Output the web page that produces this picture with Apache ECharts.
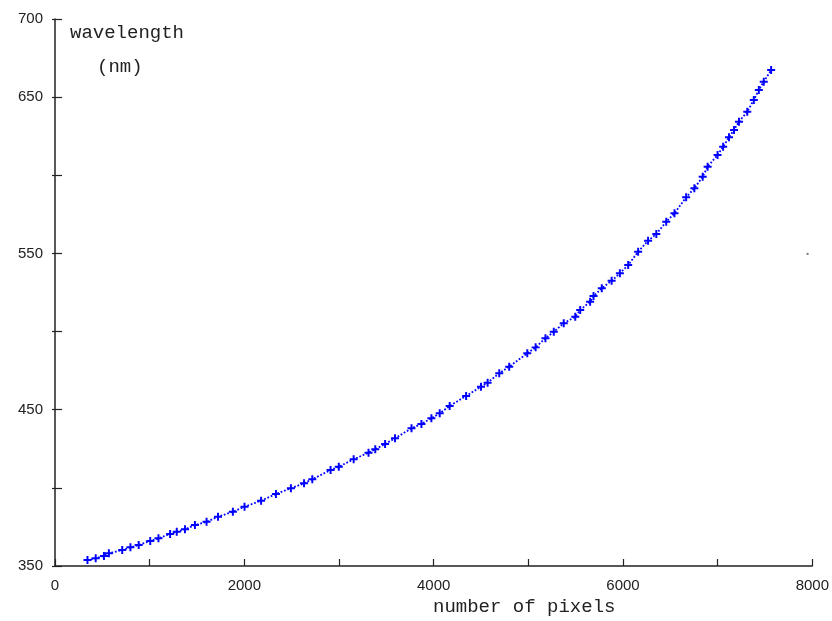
<!DOCTYPE html>
<html>
<head>
<meta charset="utf-8">
<script src="https://cdn.jsdelivr.net/npm/echarts@6/dist/echarts.min.js"></script>
<style>html,body{margin:0;padding:0;background:#fff;overflow:hidden}#c{width:832px;height:621px}</style>
</head>
<body>
<div id="c"></div>
<script>
// number of pixels (x) and wavelength in nm (y)
var pixels = [343,430,517,569,710,797,884,1006,1093,1216,1286,1373,1478,1601,1722,1879,2002,2177,2334,2492,2631,2718,2911,2998,3155,3312,3383,3487,3592,3766,3871,3976,4064,4169,4343,4500,4570,4693,4798,4989,5077,5181,5269,5374,5496,5548,5653,5689,5776,5880,5967,6055,6160,6265,6352,6457,6544,6667,6754,6842,6894,6999,7058,7120,7173,7225,7313,7382,7435,7487,7565];
var wavelength = [353.8,354.9,356.4,358.1,360.2,362.0,363.4,366.0,367.7,370.5,371.9,373.5,376.2,378.3,381.5,384.7,387.9,391.8,396.1,399.7,402.9,405.5,411.4,413.5,418.3,422.5,424.7,428.1,431.7,438.1,440.9,444.5,447.7,452.4,458.8,464.7,467.3,473.3,477.5,486.1,489.9,495.7,499.9,505.3,509.5,513.8,519.1,522.7,527.7,532.5,537.3,542.6,551.1,558.1,562.4,570.3,575.7,585.9,591.7,599.1,605.5,613.0,618.3,624.3,629.0,634.3,640.7,648.2,654.6,659.9,667.3];
var strayPoint = [7950, 549.7];
var xTickLabels = ['0','2000','4000','6000','8000'];
var yTickLabels = ['350','450','550','650','700'];
var yAxisTitle = ['wavelength','(nm)'];
var xAxisTitle = 'number of pixels';

var pts = pixels.map(function(p,i){return [p, wavelength[i]];});
var plus = 'path://M2,0H3.3V2H5.3V3.3H3.3V5.3H2V3.3H0V2H2Z';
var chart = echarts.init(document.getElementById('c'), null, {renderer:'canvas'});
var axisCol = '#222';
var labelStyle = {color:'#222', fontFamily:'Liberation Sans, Arial, sans-serif', fontSize:15};
chart.setOption({
  backgroundColor:'#fff',
  animation:false,
  grid:{left:55, right:12, top:19, bottom:55, containLabel:false},
  xAxis:{
    type:'value', min:0, max:8000, interval:1000,
    axisLine:{show:true, onZero:false, lineStyle:{color:axisCol, width:1.5}},
    axisTick:{show:true, inside:true, length:7, lineStyle:{color:axisCol, width:1.2}},
    axisLabel:Object.assign({margin:12, formatter:function(v){var s=String(v);return xTickLabels.indexOf(s)>=0?s:'';}}, labelStyle),
    splitLine:{show:false}
  },
  yAxis:[{
    type:'value', min:350, max:700, interval:50,
    axisLine:{show:true, onZero:false, lineStyle:{color:axisCol, width:1.5}},
    axisTick:{show:true, inside:true, length:7, lineStyle:{color:axisCol, width:1.2}},
    axisLabel:Object.assign({margin:12, formatter:function(v){var s=String(v);return yTickLabels.indexOf(s)>=0?s:'';}}, labelStyle),
    splitLine:{show:false}
  },{
    type:'value', min:350, max:700, interval:50, position:'left',
    axisLine:{show:false},
    axisTick:{show:true, inside:false, length:3, lineStyle:{color:axisCol, width:1.2}},
    axisLabel:{show:false}, splitLine:{show:false}
  }],
  series:[{
    type:'line', data:pts, yAxisIndex:0,
    lineStyle:{color:'#0000ff', width:1.8, type:'dotted'},
    symbol:plus, symbolSize:8, showSymbol:true,
    itemStyle:{color:'#0000ff'}
  },{
    type:'scatter', data:[strayPoint], symbol:'rect', symbolSize:2,
    itemStyle:{color:'#555'}
  }],
  graphic:[
    {type:'text', left:70, top:23, style:{text:yAxisTitle[0], fill:'#222', font:'19px "Liberation Mono", monospace'}},
    {type:'text', left:97, top:57, style:{text:yAxisTitle[1], fill:'#222', font:'19px "Liberation Mono", monospace'}},
    {type:'text', left:433, top:597, style:{text:xAxisTitle, fill:'#222', font:'19px "Liberation Mono", monospace'}}
  ]
});
</script>
</body>
</html>
